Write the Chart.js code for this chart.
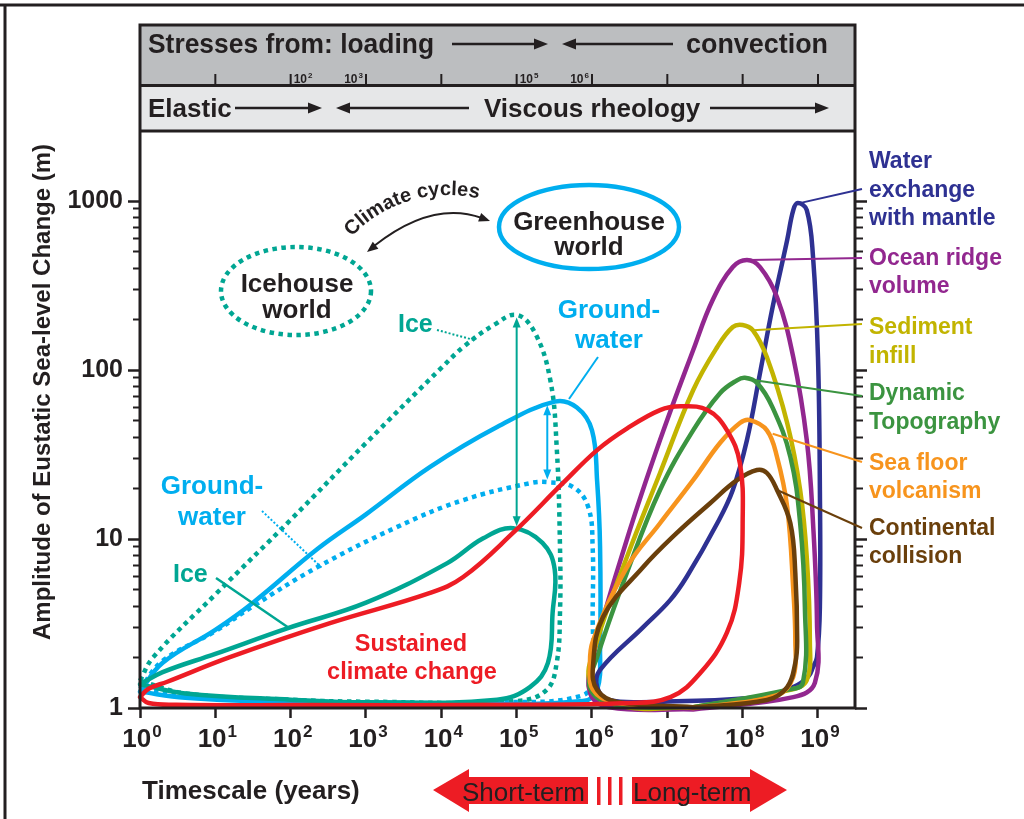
<!DOCTYPE html>
<html>
<head>
<meta charset="utf-8">
<title>Eustatic sea-level change vs timescale</title>
<script src="https://cdn.jsdelivr.net/npm/chart.js@4.4.1/dist/chart.umd.min.js"></script>
<style>
  html, body { margin: 0; padding: 0; background: #fff; }
  canvas { display: block; }
</style>
</head>
<body>
<canvas id="chart" width="1024" height="819"></canvas>
<script>
// Amplitude of eustatic sea-level change (m) against timescale (years), log-log.
// Each process is a closed loop of [years, metres].

const INK = '#231f20';
const TEAL = '#00a693', CYAN = '#00aeef', RED = '#ed1c24';
const NAVY = '#2e3192', PURPLE = '#92278f', OLIVE = '#c2b400';
const GREEN = '#3b9440', ORANGE = '#f7941d', BROWN = '#6a3f0b';
const FONT = '"Liberation Sans", Arial, Helvetica, sans-serif';

// ── axes ──
const xDecades = [1, 10, 100, 1e3, 1e4, 1e5, 1e6, 1e7, 1e8, 1e9];
const xExponents = [0, 1, 2, 3, 4, 5, 6, 7, 8, 9];
const yMajor = [1, 10, 100, 1000];
const yMinor = [2, 3, 4, 5, 6, 7, 8, 9, 20, 30, 40, 50, 60, 70, 80, 90,
                200, 300, 400, 500, 600, 700, 800, 900];
const xMin = 1, xMax = 3.1e9, yMin = 1, yMax = 2600;

// ── short-term loops (solid = greenhouse, dotted = icehouse) ──
const iceSolid = [[1,1.38],[2,1.63],[10,2.09],[92,2.97],[1e3,4.2],[1.2e4,7.2],[3.6e4,10.1],[9e4,11.6],
  [2.2e5,9.5],[3.2e5,6.6],[3e5,3.65],[2.6e5,1.85],[1.5e5,1.33],[5.5e4,1.12],[1e3,1.08],[100,1.12],[4,1.22],[1,1.38]];
const iceDotted = [[1,1.45],[1.5,2.0],[10,4.7],[100,13],[1e3,37],[1e4,103],[2e4,138],[5e4,185],[1e5,212],
  [1.75e5,166],[2.8e5,87],[3.4e5,35],[3.76e5,9],[3.76e5,3.65],[3.4e5,1.85],[2.5e5,1.28],[1e5,1.1],[1e3,1.09],[100,1.12],[4,1.22],[1,1.45]];
const groundSolid = [[1,1.25],[2,1.85],[10,2.9],[31.6,4.2],[224,8.7],[1e3,14],[7.1e3,26.7],[5.5e4,46],[3.2e5,65],
  [6.3e5,60],[1e6,44],[1.17e6,22],[1.28e6,9],[1.28e6,2.3],[1.17e6,1.28],[7.6e5,1.1],[1e4,1.06],[100,1.08],[4,1.15],[1,1.25]];
const groundDotted = [[1,1.3],[2,1.9],[10,2.85],[31.6,4.0],[224,6.8],[2.6e3,11.8],[1.95e4,17],[1.5e5,21.4],[2.6e5,21.7],
  [5.6e5,20.3],[8.9e5,15.5],[1.02e6,9],[1.02e6,3.65],[1e6,1.61],[7.6e5,1.19],[5.5e4,1.08],[1e3,1.08],[100,1.1],[4,1.18],[1,1.3]];
const sustained = [[1,1.16],[1.3,1.3],[2.3,1.43],[15.6,2.0],[333,3.18],[7.1e3,4.8],[1.95e4,5.96],[9e4,10.9],[4.1e5,21.4],
  [1.17e6,33.6],[2.9e6,45],[8e6,58],[1.5e7,61],[3.4e7,58],[6.2e7,44],[9.2e7,28],[1e8,12.4],[9e7,5.5],[6.2e7,2.8],
  [2.7e7,1.6],[1.1e7,1.16],[2.9e6,1.07],[1e5,1.045],[100,1.04],[3,1.045],[1.3,1.07],[1,1.16]];

// ── long-term loops ──
const mantle = [[8e6,1.085],[1.7e6,1.115],[1.17e6,1.33],[1.28e6,1.68],[4.75e6,3.0],[1.09e7,4.35],[1.82e7,6.0],[4.6e7,12.4],
  [7.4e7,19.5],[1.14e8,38.5],[1.7e8,96],[2.5e8,236],[3.9e8,588],[4.7e8,885],[5.4e8,973],[7.1e8,885],[8.6e8,466],[1e9,119],
  [1.06e9,19.5],[1.06e9,3.96],[9.7e8,2.0],[8.6e8,1.75],[7.4e8,1.53],[4.7e8,1.33],[1.7e8,1.16],[8e6,1.085]];
const ridge = [[2.2e7,0.98],[1.7e6,1.01],[9.4e5,1.23],[1.03e6,2.0],[2.9e6,9.9],[8e6,38.5],[2.2e7,131],[4e7,260],[7.4e7,407],
  [1.14e8,448],[1.7e8,407],[2.86e8,270],[4.7e8,119],[7.1e8,38.5],[8.6e8,12.4],[9.7e8,3.18],[9.1e8,1.41],[4.7e8,1.16],[2.2e7,0.98]];
const sediment = [[2.2e7,1.01],[2.35e6,1.03],[9.4e5,1.41],[1.17e6,2.5],[2.9e6,7.8],[8e6,24.6],[2.2e7,76],[4.6e7,137],[7.4e7,180],
  [1e8,185],[1.37e8,172],[2.1e8,119],[3.9e8,48.6],[5.8e8,19.5],[7.1e8,7.8],[7.8e8,2.5],[7.1e8,1.46],[4.3e8,1.28],[2.2e7,1.01]];
const dynamic = [[2.2e7,1.01],[2e6,1.05],[9.4e5,1.31],[1.17e6,2.0],[2.9e6,6.3],[8e6,19.5],[2.2e7,44],[5e7,73],[8.4e7,87],
  [1.07e8,90],[1.55e8,84],[2.5e8,60],[4.3e8,30.6],[5.8e8,12.4],[6.7e8,3.96],[6.3e8,1.41],[3.9e8,1.28],[2.2e7,1.01]];
const volcanism = [[2.2e7,1.0],[1.9e6,1.085],[1.03e6,1.28],[9.4e5,1.75],[1.03e6,2.5],[2.9e6,6.8],[8e6,12.4],[2.2e7,22.3],[5e7,37],
  [9.2e7,48.6],[1.25e8,50.6],[2.1e8,44],[2.86e8,30.6],[3.9e8,15.5],[4.7e8,5.0],[5e8,2.5],[4.7e8,1.53],[2.86e8,1.19],[2.2e7,1.0]];
const collision = [[2.2e7,1.01],[2.15e6,1.085],[1.17e6,1.28],[1.03e6,1.75],[1.4e6,3.45],[4.75e6,6.8],[1.35e7,10.9],[3.7e7,16.3],
  [8.4e7,22.3],[1.55e8,25.6],[2.1e8,24.6],[2.86e8,19.5],[4.3e8,12.4],[5e8,6.3],[5.3e8,2.5],[5e8,1.85],[3.9e8,1.33],[2.1e8,1.115],[2.2e7,1.01]];

// right-hand labels: text lines, colour, leader start (data) and first baseline
const rightLabels = [
  { lines: ['Water', 'exchange', 'with mantle'], color: NAVY, from: [5.7e8, 973], to: 189, base: 168 },
  { lines: ['Ocean ridge', 'volume'], color: PURPLE, from: [1.25e8, 448], to: 258, base: 264.5 },
  { lines: ['Sediment', 'infill'], color: OLIVE, from: [1.37e8, 172], to: 324, base: 334 },
  { lines: ['Dynamic', 'Topography'], color: GREEN, from: [1.46e8, 87], to: 396, base: 400 },
  { lines: ['Sea floor', 'volcanism'], color: ORANGE, from: [2.5e8, 42], to: 462, base: 469.5 },
  { lines: ['Continental', 'collision'], color: BROWN, from: [2.86e8, 19.5], to: 528, base: 534.5 },
];

const toXY = pts => pts.map(([x, y]) => ({ x, y }));

function loop(pts, color, dotted) {
  return {
    data: toXY(pts),
    showLine: true,
    borderColor: color,
    borderWidth: 4.5,
    borderDash: dotted ? [4.5, 4.5] : [],
    borderCapStyle: dotted ? 'butt' : 'round',
    pointRadius: 0,
    clip: false,
  };
}

// ── drawing helpers ──
function drawText(ctx, s, x, y, { size = 26, color = INK, align = 'left', weight = 'bold', maxWidth } = {}) {
  ctx.font = `${weight} ${size}px ${FONT}`;
  ctx.fillStyle = color;
  ctx.textAlign = align;
  ctx.textBaseline = 'alphabetic';
  if (maxWidth) ctx.fillText(s, x, y, maxWidth);
  else ctx.fillText(s, x, y);
}

function drawPow(ctx, exp, x, y, size, supSize, align) {
  ctx.font = `bold ${size}px ${FONT}`;
  const wBase = ctx.measureText('10').width;
  ctx.font = `bold ${supSize}px ${FONT}`;
  const wSup = ctx.measureText(String(exp)).width;
  const total = wBase + wSup + 1;
  const x0 = align === 'center' ? x - total / 2 : align === 'right' ? x - total : x;
  drawText(ctx, '10', x0, y, { size });
  drawText(ctx, String(exp), x0 + wBase + 1, y - size * 0.4, { size: supSize });
}

function head(ctx, x, y, ang, len, half, color) {
  ctx.save();
  ctx.translate(x, y);
  ctx.rotate(ang);
  ctx.beginPath();
  ctx.moveTo(0, 0);
  ctx.lineTo(-len, -half);
  ctx.lineTo(-len, half);
  ctx.closePath();
  ctx.fillStyle = color;
  ctx.fill();
  ctx.restore();
}

function arrow(ctx, x1, y1, x2, y2, { color = INK, width = 2.5, len = 14, half = 5.5, both = false } = {}) {
  const a = Math.atan2(y2 - y1, x2 - x1), c = Math.cos(a), s = Math.sin(a);
  const k = len * 0.7;
  ctx.strokeStyle = color;
  ctx.lineWidth = width;
  ctx.setLineDash([]);
  ctx.beginPath();
  ctx.moveTo(both ? x1 + c * k : x1, both ? y1 + s * k : y1);
  ctx.lineTo(x2 - c * k, y2 - s * k);
  ctx.stroke();
  head(ctx, x2, y2, a, len, half, color);
  if (both) head(ctx, x1, y1, a + Math.PI, len, half, color);
}

function line(ctx, x1, y1, x2, y2, color, width, dash = []) {
  ctx.strokeStyle = color;
  ctx.lineWidth = width;
  ctx.setLineDash(dash);
  ctx.beginPath();
  ctx.moveTo(x1, y1);
  ctx.lineTo(x2, y2);
  ctx.stroke();
  ctx.setLineDash([]);
}

function arcText(ctx, s, cx, cy, r, startAng, size) {
  ctx.font = `bold ${size}px ${FONT}`;
  ctx.fillStyle = INK;
  ctx.textAlign = 'center';
  ctx.textBaseline = 'alphabetic';
  let a = startAng;
  for (const ch of s) {
    const w = ctx.measureText(ch).width;
    const mid = a + w / 2 / r;
    ctx.save();
    ctx.translate(cx + r * Math.cos(mid), cy + r * Math.sin(mid));
    ctx.rotate(mid + Math.PI / 2);
    ctx.fillText(ch, 0, 0);
    ctx.restore();
    a += w / r;
  }
}

// ── annotations inside the plot ──
function drawAnnotations(chart) {
  const ctx = chart.ctx, xs = chart.scales.x, ys = chart.scales.y;
  const P = (x, y) => [xs.getPixelForValue(x), ys.getPixelForValue(y)];
  ctx.save();

  // icehouse / greenhouse worlds
  ctx.lineWidth = 4.5;
  ctx.strokeStyle = TEAL;
  ctx.setLineDash([4.5, 4.5]);
  ctx.beginPath();
  ctx.ellipse(296, 291, 75, 44, 0, 0, Math.PI * 2);
  ctx.stroke();
  ctx.setLineDash([]);
  ctx.strokeStyle = CYAN;
  ctx.beginPath();
  ctx.ellipse(589, 227, 90, 42, 0, 0, Math.PI * 2);
  ctx.stroke();
  drawText(ctx, 'Icehouse', 297, 292, { align: 'center' });
  drawText(ctx, 'world', 297, 318, { align: 'center' });
  drawText(ctx, 'Greenhouse', 589, 230, { align: 'center', maxWidth: 154 });
  drawText(ctx, 'world', 589, 255, { align: 'center' });

  // climate cycles
  arcText(ctx, 'Climate cycles', 448, 327, 132, -2.39, 20);
  ctx.strokeStyle = INK;
  ctx.lineWidth = 2;
  ctx.beginPath();
  ctx.moveTo(482, 218);
  ctx.quadraticCurveTo(432, 200, 374, 246);
  ctx.stroke();
  head(ctx, 490, 221, Math.atan2(20, 56), 11, 4.5, INK);
  head(ctx, 367, 252, Math.atan2(51, -64), 11, 4.5, INK);

  // labels for short-term loops
  drawText(ctx, 'Ice', 398, 332, { size: 25, color: TEAL });
  line(ctx, 437, 330, 474, 340, TEAL, 2, [2, 2]);
  drawText(ctx, 'Ground-', 609, 318, { color: CYAN, align: 'center' });
  drawText(ctx, 'water', 609, 348, { color: CYAN, align: 'center' });
  line(ctx, 598, 357, 569, 399, CYAN, 2);
  drawText(ctx, 'Ground-', 212, 494, { color: CYAN, align: 'center' });
  drawText(ctx, 'water', 212, 525, { color: CYAN, align: 'center' });
  line(ctx, 262, 511, 322, 568, CYAN, 2, [2, 2]);
  drawText(ctx, 'Ice', 173, 582, { size: 25, color: TEAL });
  line(ctx, 216, 578, 289, 628, TEAL, 2.5);
  drawText(ctx, 'Sustained', 411, 651, { size: 23.5, color: RED, align: 'center' });
  drawText(ctx, 'climate change', 412, 679, { size: 23.5, color: RED, align: 'center' });

  // icehouse minus greenhouse amplitude
  const [ax, ay1] = P(1e5, 205), [, ay2] = P(1e5, 11.9);
  arrow(ctx, ax, ay1, ax, ay2, { color: TEAL, width: 2, len: 10, half: 4, both: true });
  const [bx, by1] = P(2.55e5, 62), [, by2] = P(2.55e5, 22.5);
  arrow(ctx, bx, by1, bx, by2, { color: CYAN, width: 2, len: 10, half: 4, both: true });

  ctx.restore();
}

// ── frame, header bands, axis labels, outer legend ──
function drawFrame(chart) {
  const ctx = chart.ctx, xs = chart.scales.x, ys = chart.scales.y;
  const { left, right, top, bottom } = chart.chartArea;
  ctx.save();

  // page border
  line(ctx, 0, 5, 1024, 5, INK, 3);
  line(ctx, 5, 5, 5, 819, INK, 3);

  // header bands
  ctx.fillStyle = '#bcbec0';
  ctx.fillRect(left, 25, right - left, 60);
  ctx.fillStyle = '#e6e7e8';
  ctx.fillRect(left, 86, right - left, top - 86);
  for (let i = 1; i < xDecades.length; i++) {
    const x = xs.getPixelForValue(xDecades[i]);
    line(ctx, x, 74, x, 85, INK, 2);
  }
  drawPow(ctx, 2, xs.getPixelForValue(1e2) + 3, 83, 12, 8, 'left');
  drawPow(ctx, 3, xs.getPixelForValue(1e3) - 3, 83, 12, 8, 'right');
  drawPow(ctx, 5, xs.getPixelForValue(1e5) + 3, 83, 12, 8, 'left');
  drawPow(ctx, 6, xs.getPixelForValue(1e6) - 3, 83, 12, 8, 'right');

  drawText(ctx, 'Stresses from: loading', 148, 53, { size: 27, maxWidth: 286 });
  arrow(ctx, 452, 44, 548, 44);
  arrow(ctx, 673, 44, 562, 44);
  drawText(ctx, 'convection', 686, 53, { size: 27, maxWidth: 142 });
  drawText(ctx, 'Elastic', 148, 117, { size: 26, maxWidth: 85 });
  arrow(ctx, 235, 108, 322, 108);
  arrow(ctx, 469, 108, 336, 108);
  drawText(ctx, 'Viscous rheology', 484, 117, { size: 26, maxWidth: 221 });
  arrow(ctx, 710, 108, 829, 108);

  // frame lines
  ctx.strokeStyle = INK;
  ctx.lineWidth = 3;
  ctx.strokeRect(left, 25, right - left, bottom - 25);
  line(ctx, left, 85.5, right, 85.5, INK, 3);
  line(ctx, left, top, right, top, INK, 3);

  // x tick labels
  xDecades.forEach((v, i) => drawPow(ctx, xExponents[i], xs.getPixelForValue(v) + 2, 747, 26, 17, 'center'));

  // axis titles
  ctx.save();
  ctx.translate(50, 392);
  ctx.rotate(-Math.PI / 2);
  drawText(ctx, 'Amplitude of Eustatic Sea-level Change (m)', 0, 0, { size: 24, align: 'center', maxWidth: 505 });
  ctx.restore();
  drawText(ctx, 'Timescale (years)', 142, 799, { size: 26, maxWidth: 219 });

  // short-term | long-term arrow
  ctx.fillStyle = RED;
  ctx.beginPath();
  [[433,790],[469,769],[469,777],[588,777],[588,804],[469,804],[469,812]].forEach(([x, y], i) => i ? ctx.lineTo(x, y) : ctx.moveTo(x, y));
  ctx.closePath();
  ctx.fill();
  ctx.beginPath();
  [[787,790],[750,769],[750,777],[632,777],[632,804],[750,804],[750,812]].forEach(([x, y], i) => i ? ctx.lineTo(x, y) : ctx.moveTo(x, y));
  ctx.closePath();
  ctx.fill();
  [597, 608, 619].forEach(x => ctx.fillRect(x, 777, 3.5, 28));
  drawText(ctx, 'Short-term', 462, 801, { size: 26, weight: 'normal', maxWidth: 124 });
  drawText(ctx, 'Long-term', 633, 801, { size: 26, weight: 'normal', maxWidth: 120 });

  // long-term process labels with leaders
  rightLabels.forEach(l => {
    const x0 = xs.getPixelForValue(l.from[0]), y0 = ys.getPixelForValue(l.from[1]);
    line(ctx, x0, y0, 862, l.to, l.color, 2);
    l.lines.forEach((t, i) => drawText(ctx, t, 869, l.base + i * 28.5, { size: 23, color: l.color }));
  });

  ctx.restore();
}

const figure = {
  id: 'figure',
  beforeDraw(chart) {
    const ctx = chart.ctx;
    ctx.save();
    ctx.fillStyle = '#fff';
    ctx.fillRect(0, 0, chart.width, chart.height);
    ctx.restore();
  },
  afterDatasetsDraw: drawAnnotations,
  afterDraw: drawFrame,
};

const fixTicks = values => scale => { scale.ticks = values.map(value => ({ value })); };

// majors sit outside (weight 1), zero-width minor axes hug the plot edge (weight 0)
function yScale(position, ticks, tickLength, width, withLabels, major) {
  return {
    type: 'logarithmic',
    position,
    weight: major ? 1 : 0,
    min: yMin,
    max: yMax,
    afterBuildTicks: fixTicks(ticks),
    afterFit: s => { s.width = width; },
    border: { display: false },
    grid: { drawOnChartArea: false, tickLength, tickWidth: major ? 2.5 : 2, tickColor: INK },
    ticks: withLabels
      ? { autoSkip: false, padding: 5, color: INK, font: { family: FONT, size: 25, weight: 'bold' }, callback: v => String(v) }
      : { display: false, autoSkip: false },
  };
}

new Chart(document.getElementById('chart'), {
  type: 'scatter',
  data: {
    datasets: [
      loop(sustained, RED),
      loop(collision, BROWN),
      loop(volcanism, ORANGE),
      loop(dynamic, GREEN),
      loop(sediment, OLIVE),
      loop(ridge, PURPLE),
      loop(mantle, NAVY),
      loop(iceSolid, TEAL),
      loop(groundSolid, CYAN),
      loop(iceDotted, TEAL, true),
      loop(groundDotted, CYAN, true),
    ],
  },
  options: {
    responsive: false,
    devicePixelRatio: 1,
    animation: false,
    layout: { padding: { left: 10, right: 149, top: 131, bottom: 51 } },
    plugins: { legend: { display: false }, tooltip: { enabled: false } },
    elements: { line: { tension: 0.4, capBezierPoints: false, borderJoinStyle: 'round' } },
    scales: {
      x: {
        type: 'logarithmic',
        position: 'bottom',
        min: xMin,
        max: xMax,
        afterBuildTicks: fixTicks(xDecades),
        afterFit: s => { s.height = 60; },
        border: { display: false },
        grid: { drawOnChartArea: false, tickLength: 10, tickWidth: 2.5, tickColor: INK },
        ticks: { display: false, autoSkip: false },
      },
      y: yScale('left', yMajor, 12, 130, true, true),
      yMinor: yScale('left', yMinor, 7, 0, false, false),
      yR: yScale('right', yMajor, 12, 20, false, true),
      yRMinor: yScale('right', yMinor, 8, 0, false, false),
    },
  },
  plugins: [figure],
});
</script>
</body>
</html>
